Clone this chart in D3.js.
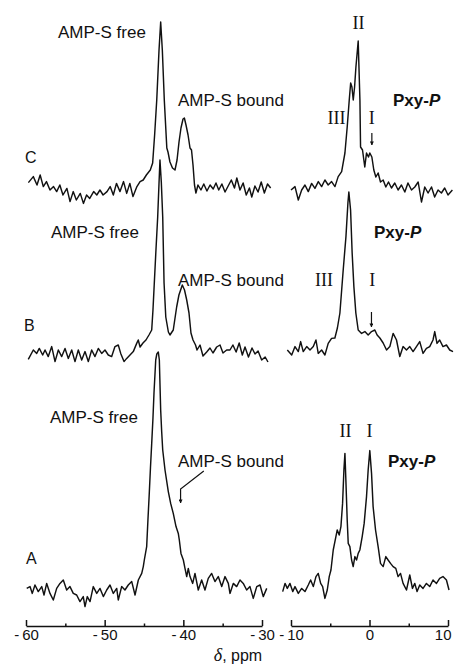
<!DOCTYPE html>
<html>
<head>
<meta charset="utf-8">
<script src="https://cdn.jsdelivr.net/npm/d3@7"></script>
<style>
  body { margin: 0; background: #fff; }
  svg { display: block; }
  .trace { fill: none; stroke: #111; stroke-width: 1.45; stroke-linejoin: round; }
  .lbl { font-family: "Liberation Sans", Arial, sans-serif; font-size: 17px; fill: #111; }
  .letter { font-family: "Liberation Sans", Arial, sans-serif; font-size: 16px; fill: #111; }
  .pxy { font-family: "Liberation Sans", Arial, sans-serif; font-size: 17px; font-weight: bold; fill: #111; }
  .num { font-family: "Liberation Serif", "Times New Roman", serif; font-size: 18px; fill: #111; }
  .axis path, .axis line { stroke: #111; stroke-width: 1.5; }
  .axis text { font-family: "Liberation Sans", Arial, sans-serif; font-size: 15px; fill: #111; }
</style>
</head>
<body>
<div id="chart"></div>
<script>
(function(d3) {

  'use strict';

  // chemical shift (ppm), intensity (arbitrary units)
  var cLeft = [[-59.7,3.7],[-59.07,6.7],[-58.6,2.5],[-58.2,7.5],[-57.8,1.7],[-57.4,4.2],[-56.95,0],[-56.5,1.7],[-56.1,-0.8],[-55.7,2.5],[-55.3,-2.5],[-54.8,0.8],[-54.4,-5.8],[-54,-0.8],[-53.6,-5],[-53.1,-1.7],[-52.7,-6.7],[-52.3,-2.5],[-51.9,-4.2],[-51.4,-0.8],[-51,-2.5],[-50.6,0],[-50.2,-2.5],[-49.7,-0.8],[-49.3,1.7],[-48.9,-2.5],[-48.5,3.3],[-48.05,-0.8],[-47.6,4.2],[-47.2,-1.7],[-46.8,3.3],[-46.4,-3.3],[-45.9,1.7],[-45.5,4.2],[-45.1,5],[-44.7,7.5],[-44.2,10],[-43.9,13.5],[-43.65,27.5],[-43.38,45],[-43.09,70],[-42.88,84],[-42.67,70],[-42.42,45],[-42.1,21],[-41.95,19],[-41.7,14],[-41.38,11],[-41.06,10],[-40.8,15],[-40.55,24],[-40.3,31],[-40.04,35.5],[-39.87,36],[-39.66,32.5],[-39.4,27.5],[-39.15,21],[-38.96,20],[-38.77,12.5],[-38.58,2.5],[-38.4,-1.5],[-38.14,2.5],[-37.76,0],[-37.4,3],[-37,-0.5],[-36.6,2.5],[-36.2,0.5],[-35.85,3.5],[-35.5,0],[-35.1,3],[-34.7,-1],[-34.3,2],[-33.9,5],[-33.5,1],[-33.2,6],[-32.8,0],[-32.4,3.5],[-32,-2.5],[-31.6,1],[-31.3,-3.5],[-30.9,2],[-30.5,-1],[-30.1,4],[-29.7,-1.5],[-29.3,3],[-28.9,1]];

  var cRight = [[-10,0],[-9.49,1.7],[-9.07,-5],[-8.64,0],[-8.22,2.5],[-7.8,-0.8],[-7.37,3.3],[-6.95,0.8],[-6.52,4.2],[-6.1,1.7],[-5.68,5],[-5.26,2.5],[-4.83,4.2],[-4.4,1.7],[-3.99,6.7],[-3.55,9.2],[-3.13,18.5],[-2.84,31.5],[-2.58,45],[-2.4,53.5],[-2.24,51.5],[-2.07,45],[-1.9,51.5],[-1.73,61.5],[-1.44,74.5],[-1.22,45],[-1.14,21.5],[-0.89,20],[-0.6,11.5],[-0.38,18.5],[-0.13,16.5],[0.04,18.5],[0.3,16.5],[0.55,10],[0.81,6.5],[1.1,8.5],[1.4,4],[1.74,5],[2.08,1.5],[2.42,4],[2.8,1],[3.22,3.5],[3.64,0],[4.07,2.5],[4.5,-1],[4.9,3.5],[5.35,0],[5.77,1.5],[6.2,4],[6.62,-6],[7.04,1.5],[7.46,-1.5],[7.9,1.5],[8.3,-3.5],[8.73,0],[9.16,-1.5],[9.58,1],[10,-2.5],[10.56,0]];

  var bLeft = [[-59.71,-3.7],[-59.07,1],[-58.64,-0.7],[-58.31,1.8],[-57.88,-1.5],[-57.58,1],[-57.17,-2.3],[-56.73,2.7],[-56.31,-4.8],[-55.89,1],[-55.46,-2.3],[-55.04,1.8],[-54.62,-3.2],[-54.19,1],[-53.77,-4.8],[-53.35,1],[-52.92,-4],[-52.5,0.2],[-52.08,-4.8],[-51.65,1],[-51.23,-2.3],[-50.81,1.8],[-50.38,-0.7],[-49.96,1],[-49.54,-1.5],[-49.11,-2.3],[-48.69,2.7],[-48.27,3.5],[-47.96,-0.7],[-47.54,-4.8],[-47.2,-3.2],[-46.78,-1.5],[-46.36,0.2],[-45.93,4.3],[-45.73,6],[-45.5,2.5],[-45.13,4.5],[-44.75,6],[-44.37,8.5],[-44.02,11],[-43.86,21],[-43.69,34.5],[-43.48,51],[-43.26,67.5],[-43.1,83.5],[-42.97,96],[-42.8,85],[-42.62,67.5],[-42.45,34.5],[-42.23,17.5],[-42.1,14.5],[-41.9,10],[-41.7,8.5],[-41.28,11],[-40.85,22.5],[-40.56,28.5],[-40.13,33.5],[-39.85,31],[-39.57,26],[-39.28,19.5],[-39.03,9.5],[-38.77,6],[-38.45,3.5],[-38.26,1],[-37.88,3.5],[-37.5,-2],[-37.03,0],[-36.61,2],[-36.23,-0.5],[-35.76,2.5],[-35.34,3.5],[-34.96,-0.5],[-34.49,1],[-34.07,1],[-33.7,3.5],[-33.29,0],[-32.9,4.5],[-32.5,-1.5],[-32.16,2.5],[-31.72,-2.5],[-31.27,2],[-30.89,-1],[-30.5,0.5],[-30.04,-4],[-29.6,-2.5],[-29.24,-5]];

  var bRight = [[-10.47,0],[-9.91,-2.5],[-9.49,1.7],[-9.07,-0.8],[-8.77,4.2],[-8.44,-0.8],[-8,1.7],[-7.58,0],[-7.16,1.7],[-6.82,5],[-6.53,-1.7],[-6.1,0],[-5.68,-2.5],[-5.26,3.3],[-4.83,5.8],[-4.41,6],[-4.09,11],[-3.77,18.5],[-3.35,40],[-3,56.7],[-2.75,73.5],[-2.63,79],[-2.41,70],[-2.21,48.5],[-1.99,31.7],[-1.74,18.5],[-1.44,10],[-1.01,8.3],[-0.59,9.2],[-0.17,7.5],[0.26,9.2],[0.68,10],[0.97,7.5],[1.32,6],[1.74,3.5],[2.17,0],[2.59,1.7],[3.01,8.3],[3.44,5],[3.86,-3.3],[4.28,1.7],[4.71,0],[5.13,1.7],[5.55,-0.8],[5.98,1.7],[6.4,4.2],[6.82,-1.7],[7.25,0.8],[7.67,1.7],[8.09,5],[8.31,9.2],[8.6,3.3],[8.94,5],[9.36,1.7],[9.8,2.5],[10.22,0],[10.64,-0.8]];

  var aLeft = [[-59.91,-0.2],[-59.49,0.7],[-59.2,-2.7],[-58.86,1.5],[-58.44,-1.8],[-58,0.7],[-57.71,-3.5],[-57.37,2.3],[-56.95,-2.7],[-56.53,-6],[-56.1,-0.2],[-55.68,2.3],[-55.26,4],[-54.83,-1],[-54.41,0.7],[-53.99,-2.7],[-53.56,-3.5],[-53.14,-6.8],[-52.72,-4.3],[-52.5,-9.3],[-52.21,-4.3],[-51.86,-6.8],[-51.45,0.7],[-51.01,-2.7],[-50.59,-0.2],[-50.17,-4.3],[-49.74,-1],[-49.32,1.5],[-48.9,-2.7],[-48.47,-0.2],[-48.27,-6],[-47.84,0.7],[-47.42,-1],[-47,1.5],[-46.56,3.2],[-46.14,-3.5],[-45.72,4],[-45.29,7.3],[-45.09,10.7],[-44.96,14],[-44.66,20.7],[-44.5,34],[-44.33,47.3],[-44.18,60],[-44.02,72.3],[-43.86,85],[-43.73,97.5],[-43.51,114],[-43.37,117],[-43.18,118],[-43.05,114],[-42.88,89],[-42.75,78],[-42.62,69],[-42.33,59],[-41.91,48.2],[-41.61,42.3],[-41.28,37.3],[-40.93,30.7],[-40.64,27.3],[-40.51,24],[-40.3,17.3],[-40,14],[-39.79,9.8],[-39.57,5.7],[-39.37,9.8],[-39.15,5.7],[-38.81,2.3],[-38.52,7.3],[-38.1,-1],[-37.67,4],[-37.25,-1],[-36.83,4.8],[-36.4,7.3],[-35.98,3.2],[-35.56,5.7],[-35.12,0.7],[-34.7,5.7],[-34.28,2.3],[-34.07,-2.7],[-33.65,2.3],[-33.22,0.7],[-32.8,4],[-32.38,2.3],[-31.95,-1],[-31.53,0.7],[-31.11,-5.2],[-30.67,0.7],[-30.25,1.5],[-29.84,-4.3],[-29.4,-0.2]];

  var aRight = [[-11.06,-0.8],[-10.76,3.3],[-10.47,0.8],[-10.13,3.3],[-9.78,-0.8],[-9.49,1.7],[-9.07,-1.7],[-8.64,0.8],[-8.22,-0.8],[-7.8,2.5],[-7.5,5],[-7.16,1.7],[-6.82,6.7],[-6.53,8.3],[-6.22,3.3],[-5.97,1.7],[-5.68,-4.2],[-5.38,0],[-5.13,6.7],[-4.91,10],[-4.62,20],[-4.28,26.7],[-4.11,30],[-3.86,27.5],[-3.64,31.7],[-3.43,43.3],[-3.26,60],[-3.13,68.3],[-3.01,55],[-2.84,35],[-2.71,23.3],[-2.5,21.7],[-2.28,15],[-2.08,11.7],[-1.86,16.7],[-1.65,15],[-1.44,18.3],[-1.23,20],[-0.93,26.7],[-0.68,33.3],[-0.38,46.7],[-0.17,60],[0.04,69.7],[0.26,58.3],[0.46,41.7],[0.77,30],[1.1,21.7],[1.4,13.3],[1.74,11.7],[2.08,16.7],[2.37,15],[2.68,13.3],[3.01,11.7],[3.35,10.8],[3.64,6.7],[3.95,8.3],[4.28,3.3],[4.71,0],[5.13,7.5],[5.47,0.8],[5.77,3.3],[6.06,-0.8],[6.4,2.5],[6.82,0.8],[7.25,3.3],[7.67,1.7],[8.09,5],[8.53,3.3],[8.94,5.8],[9.36,6.7],[9.8,5],[10.13,0]];

  var leftTicks = [-60, -50, -40, -30];
  var leftMinor = [-55, -45, -35];
  var rightTicks = [-10, 0, 10];
  var rightMinor = [-5, 5];

  var width = 455, height = 666;
  var axisY = 626;

  var svg = d3.select('#chart')
    .append('svg')
    .attr('width', width)
    .attr('height', height);

  var xL = d3.scaleLinear().domain([-60, -30]).range([26, 262]);
  var xR = d3.scaleLinear().domain([-10, 10]).range([291, 448]);
  var y = d3.scaleLinear().domain([0, 100]).range([0, 200]);

  var traces = [
    { data: cLeft, x: xL, base: 190 },
    { data: cRight, x: xR, base: 190 },
    { data: bLeft, x: xL, base: 352 },
    { data: bRight, x: xR, base: 350 },
    { data: aLeft, x: xL, base: 588 },
    { data: aRight, x: xR, base: 590 }
  ];

  traces.forEach(function(t) {
    var line = d3.line()
      .x(function(d) { return t.x(d[0]); })
      .y(function(d) { return t.base - y(d[1]); });
    svg.append('path')
      .datum(t.data)
      .attr('class', 'trace')
      .attr('d', line);
  });

  // axes
  var fmt = function(d) { return d < 0 ? '-\u2009' + (-d) : String(d); };

  function drawAxis(scale, major, minor) {
    var g = svg.append('g')
      .attr('class', 'axis')
      .attr('transform', 'translate(0,' + axisY + ')')
      .call(d3.axisBottom(scale).tickValues(major).tickSize(-6).tickSizeOuter(0).tickPadding(3).tickFormat(fmt));
    var m = svg.append('g')
      .attr('class', 'axis')
      .attr('transform', 'translate(0,' + axisY + ')')
      .call(d3.axisBottom(scale).tickValues(minor).tickSize(-2.5).tickFormat(''));
    m.select('.domain').remove();
    return g;
  }
  drawAxis(xL, leftTicks, leftMinor);
  var gR = drawAxis(xR, rightTicks, rightMinor);
  // last label sits against the right edge, as in the print
  gR.selectAll('.tick text')
    .filter(function(d) { return d === 10; })
    .attr('text-anchor', 'end')
    .attr('x', 3);

  var xt = svg.append('text')
    .attr('x', 238).attr('y', 661)
    .attr('text-anchor', 'middle')
    .attr('class', 'lbl')
    .style('font-size', '16px');
  xt.append('tspan').attr('font-family', '"Liberation Serif", serif').attr('font-style', 'italic').style('font-size', '18px').text('δ');
  xt.append('tspan').text(', ppm');

  // labels
  var labels = [
    { t: 'AMP-S free', x: 58, y: 38, c: 'lbl' },
    { t: 'AMP-S bound', x: 178, y: 106, c: 'lbl' },
    { t: 'AMP-S free', x: 51, y: 238, c: 'lbl' },
    { t: 'AMP-S bound', x: 178, y: 286, c: 'lbl' },
    { t: 'AMP-S free', x: 50, y: 423, c: 'lbl' },
    { t: 'AMP-S bound', x: 178, y: 467, c: 'lbl' },
    { t: 'C', x: 25, y: 163, c: 'letter' },
    { t: 'B', x: 24, y: 331, c: 'letter' },
    { t: 'A', x: 26, y: 564, c: 'letter' }
  ];
  svg.selectAll('text.ann')
    .data(labels)
    .enter()
    .append('text')
    .attr('class', function(d) { return 'ann ' + d.c; })
    .attr('x', function(d) { return d.x; })
    .attr('y', function(d) { return d.y; })
    .text(function(d) { return d.t; });

  var numerals = [
    { t: 'II', p: -1.4, y: 29 },
    { t: 'III', p: -4.2, y: 124 },
    { t: 'I', p: 0.3, y: 124 },
    { t: 'III', p: -5.8, y: 286 },
    { t: 'I', p: 0.35, y: 286 },
    { t: 'II', p: -3.05, y: 437 },
    { t: 'I', p: 0.0, y: 437 }
  ];
  svg.selectAll('text.rn')
    .data(numerals)
    .enter()
    .append('text')
    .attr('class', 'rn num')
    .attr('text-anchor', 'middle')
    .attr('x', function(d) { return xR(d.p); })
    .attr('y', function(d) { return d.y; })
    .text(function(d) { return d.t; });

  [{ x: 393, y: 106 }, { x: 374, y: 238 }, { x: 388, y: 467 }].forEach(function(p) {
    var t = svg.append('text').attr('class', 'pxy').attr('x', p.x).attr('y', p.y);
    t.append('tspan').text('Pxy-');
    t.append('tspan').attr('font-style', 'italic').text('P');
  });

  // arrows
  svg.append('defs').append('marker')
    .attr('id', 'head')
    .attr('viewBox', '0 0 10 10')
    .attr('refX', 9).attr('refY', 5)
    .attr('markerWidth', 4).attr('markerHeight', 4)
    .attr('markerUnits', 'userSpaceOnUse')
    .attr('orient', 'auto')
    .append('path')
    .attr('d', 'M0,0L10,5L0,10Z')
    .attr('fill', '#111');

  var arrows = [
    [[0.3, 133], [0.3, 145]],
    [[0.25, 312], [0.25, 327]]
  ];
  arrows.forEach(function(a) {
    svg.append('path')
      .attr('d', d3.line().x(function(d) { return xR(d[0]); }).y(function(d) { return d[1]; })(a))
      .attr('fill', 'none').attr('stroke', '#111').attr('stroke-width', 1.2)
      .attr('marker-end', 'url(#head)');
  });
  svg.append('path')
    .attr('d', d3.line().x(function(d) { return xL(d[0]); }).y(function(d) { return d[1]; })([[-37.4, 471], [-40.35, 489], [-40.35, 503]]))
    .attr('fill', 'none').attr('stroke', '#111').attr('stroke-width', 1.2)
    .attr('marker-end', 'url(#head)');

})(d3);
</script>
</body>
</html>
